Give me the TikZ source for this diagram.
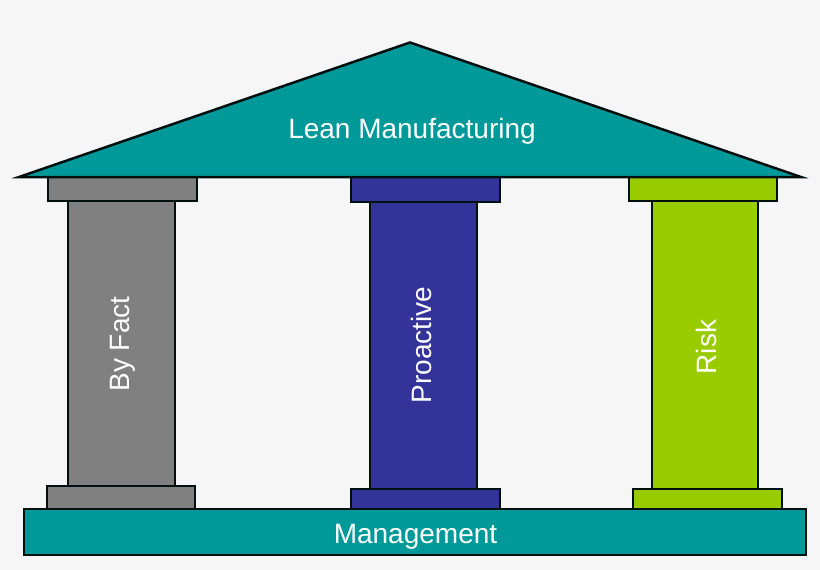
\documentclass[tikz,border=0pt]{standalone}
\usepackage{fontspec}
\setmainfont{Liberation Sans}
\definecolor{teal1}{HTML}{009999}
\definecolor{gray1}{HTML}{808080}
\definecolor{blue1}{HTML}{333399}
\definecolor{green1}{HTML}{99CC00}
\definecolor{bg1}{HTML}{F6F6F6}
\tikzset{
  part/.style={draw=black!90!teal1,line width=2.5pt,line join=miter},
  lab/.style={text=white,font=\fontsize{28}{32}\selectfont,inner sep=0pt}
}
\begin{document}
\begin{tikzpicture}[x=1pt,y=-1pt]
\path[use as bounding box,fill=bg1] (0,0) rectangle (820,570);
% gray column
\draw[part,fill=gray1] (68,201) rectangle (175,486);
\draw[part,fill=gray1] (48,177) rectangle (197,201);
\draw[part,fill=gray1] (47,486) rectangle (195,509);
% blue column
\draw[part,fill=blue1] (370,202) rectangle (477,489);
\draw[part,fill=blue1] (351,177) rectangle (500,202);
\draw[part,fill=blue1] (351,489) rectangle (500,509);
% green column
\draw[part,fill=green1] (652,201) rectangle (758,489);
\draw[part,fill=green1] (629,177) rectangle (777,201);
\draw[part,fill=green1] (633,489) rectangle (782,509);
% base and roof
\draw[part,fill=teal1] (24,509) rectangle (806,555);
\draw[part,fill=teal1] (410,42.5) -- (801,177) -- (19,177) -- cycle;
% labels
\node[lab] (roof) at (412,131) {Lean Manufacturing};
\node[lab] (mgmt) at (415.5,537) {Management};
\node[lab,rotate=90] (fact) at (123,344) {By Fact};
\node[lab,rotate=90] (pro) at (421,345) {Proactive};
\node[lab,rotate=90] (risk) at (706,347) {Risk};
\end{tikzpicture}
\end{document}
